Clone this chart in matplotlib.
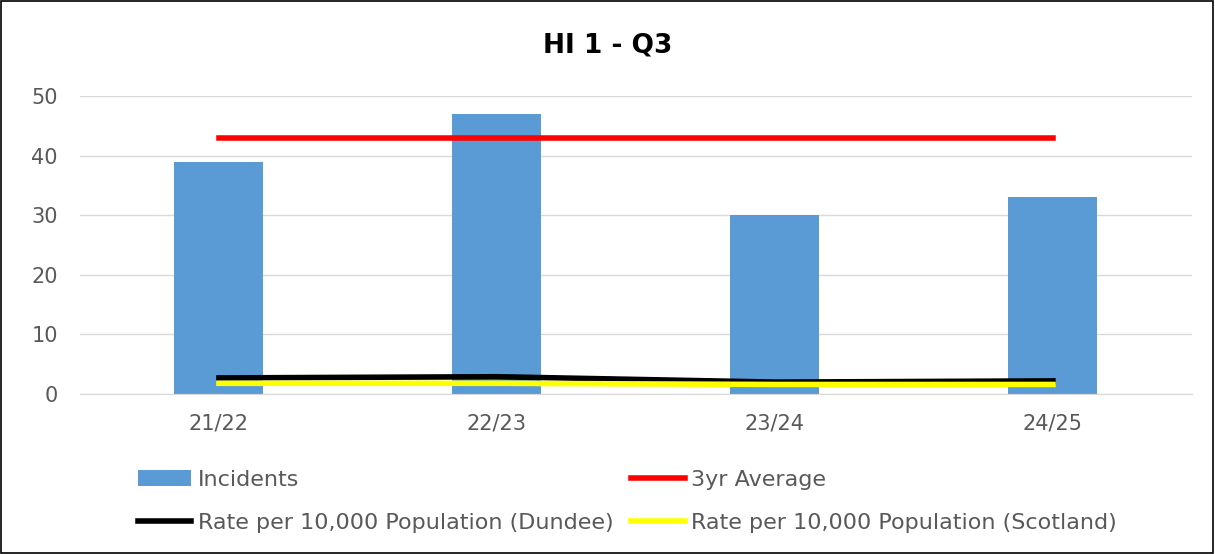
import numpy as np
import matplotlib
matplotlib.use("Agg")
import matplotlib.pyplot as plt
from matplotlib.patches import Rectangle

years = ["21/22", "22/23", "23/24", "24/25"]
incidents = [39, 47, 30, 33]
avg_3yr = [43, 43, 43, 43]
rate_dundee = [2.7, 2.9, 2.0, 2.2]
rate_scotland = [1.8, 1.8, 1.6, 1.6]

plt.rcParams['font.family'] = ['DejaVu Sans']

fig = plt.figure(figsize=(12.15, 5.54), dpi=100)
ax = fig.add_axes([0.0658, 0.2888, 0.9152, 0.5379])

x = np.arange(len(years))
b = ax.bar(x, incidents, width=0.32, color="#5b9bd5", label="Incidents", zorder=2)
l_avg, = ax.plot(x, avg_3yr, color="#ff0000", lw=4, label="3yr Average", zorder=3)
l_dun, = ax.plot(x, rate_dundee, color="#000000", lw=4, label="Rate per 10,000 Population (Dundee)", zorder=3)
l_sco, = ax.plot(x, rate_scotland, color="#ffff00", lw=4, label="Rate per 10,000 Population (Scotland)", zorder=4)

ax.set_xlim(-0.5, 3.5)
ax.set_ylim(0, 50)
ax.set_yticks(range(0, 51, 10))
ax.set_xticks(x)
ax.set_xticklabels(years)
ax.yaxis.grid(True, color="#d9d9d9", lw=1)
ax.set_axisbelow(True)
for s in ["top", "right", "left"]:
    ax.spines[s].set_visible(False)
ax.spines["bottom"].set_color("#d9d9d9")
ax.tick_params(axis="both", length=0, labelsize=15, colors="#595959")
ax.tick_params(axis="x", pad=14)
ax.tick_params(axis="y", pad=16)

fig.text(0.5, 0.918, "HI 1 - Q3", ha="center", va="center", fontsize=19, fontweight="bold", color="#000000")

fig.legend([b, l_dun, l_avg, l_sco],
           ["Incidents", "Rate per 10,000 Population (Dundee)", "3yr Average", "Rate per 10,000 Population (Scotland)"],
           ncol=2, loc="upper left", bbox_to_anchor=(0.097, 0.188), frameon=False,
           fontsize=16, labelcolor="#595959", handlelength=2.4, handletextpad=0.3,
           columnspacing=0.8, labelspacing=1.05)

fig.add_artist(Rectangle((0.001, 0.001), 0.997, 0.997, transform=fig.transFigure,
                         fill=False, edgecolor="#000000", lw=1.2))

fig.savefig("out.png", dpi=100)
